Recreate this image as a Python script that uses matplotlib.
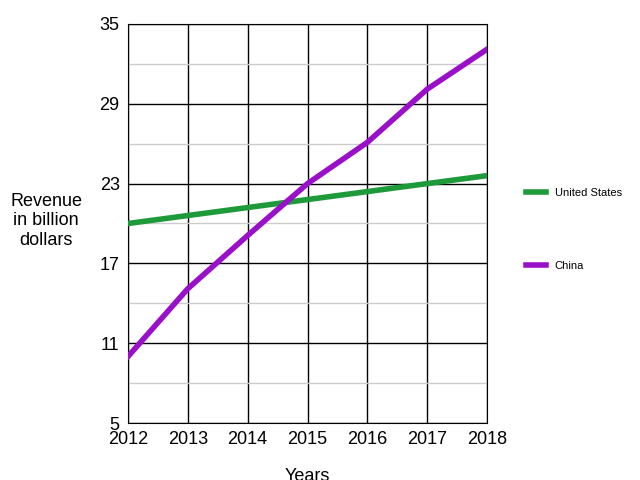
import matplotlib
matplotlib.use("Agg")
import matplotlib.pyplot as plt

years = [2012, 2013, 2014, 2015, 2016, 2017, 2018]
us = [20.0, 20.6, 21.2, 21.8, 22.4, 23.0, 23.6]
china = [10.0, 15.1, 19.1, 23.0, 26.1, 30.1, 33.1]
yticks = [5, 11, 17, 23, 29, 35]

plt.rcParams['font.family'] = ['Liberation Sans', 'DejaVu Sans']
fig = plt.figure(figsize=(6.4, 4.8), dpi=100)
ax = fig.add_axes([128/640, 1-423/480, 359/640, 399/480])
ax.plot(years, us, color='#1e9a3a', lw=4, label='United States', zorder=3)
ax.plot(years, china, color='#9a10c8', lw=4, label='China', zorder=3)
ax.set_xlim(2012, 2018)
ax.set_ylim(5, 35)
ax.set_xticks(years)
ax.set_yticks(yticks)
ax.set_yticks([8, 14, 20, 26, 32], minor=True)
ax.grid(True, which='major', color='black', lw=1)
ax.grid(True, which='minor', axis='y', color='#cccccc', lw=1)
ax.tick_params(which='both', length=0, labelsize=13, pad=6)
for s in ax.spines.values():
    s.set_color('black')
ax.set_xlabel('Years', fontsize=13, labelpad=14)
fig.text(0.072, 0.54, 'Revenue\nin billion\ndollars', ha='center', va='center', fontsize=13)
ax.legend(loc='center left', bbox_to_anchor=(1.08, 0.485), frameon=False,
          fontsize=8, labelspacing=5.6, handlelength=1.8)
fig.savefig('out.png', dpi=100)
